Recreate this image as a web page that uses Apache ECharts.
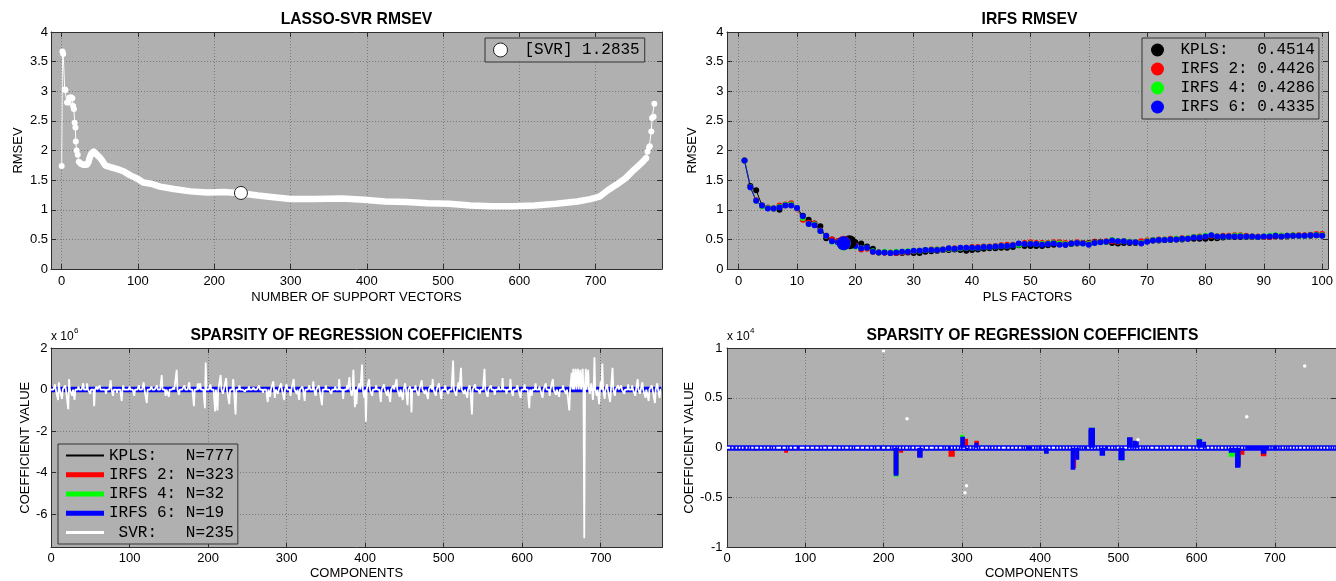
<!DOCTYPE html>
<html><head><meta charset="utf-8">
<script src="https://cdn.jsdelivr.net/npm/echarts@6/dist/echarts.min.js"></script>
<style>html,body{margin:0;padding:0;background:#fff}#c{width:1336px;height:581px}</style>
</head><body><div id="c"></div><script>
// ================= DATA =================
// --- LASSO-SVR RMSEV (top-left) ---
const svrHeadX = [0, 1, 2, 4, 5, 7, 9, 10, 12, 14, 15, 16, 17, 18, 18.5, 19.5, 21, 22.5, 25, 27];
const svrHeadY = [1.74, 3.67, 3.63, 3.03, 3.02, 2.81, 2.81, 2.89, 2.90, 2.88, 2.75, 2.70, 2.47, 2.39, 2.15, 2.00, 1.93, 1.81, 1.78, 1.77];
const svrBodyX = [25, 28, 33, 35, 37, 39, 42, 46, 50, 53, 57, 64, 72, 81, 90, 100, 107, 117, 129, 147, 169, 191, 213, 235, 257, 278, 300, 330, 368, 396, 424, 452, 480, 508, 536, 564, 592, 620, 648, 676, 693, 705, 716, 727, 739, 750, 761, 766];
const svrBodyY = [1.78, 1.76, 1.76, 1.80, 1.89, 1.95, 1.98, 1.93, 1.88, 1.83, 1.75, 1.72, 1.69, 1.65, 1.58, 1.52, 1.46, 1.44, 1.39, 1.35, 1.31, 1.29, 1.30, 1.28, 1.24, 1.21, 1.18, 1.18, 1.19, 1.17, 1.14, 1.13, 1.11, 1.10, 1.07, 1.06, 1.06, 1.07, 1.10, 1.14, 1.18, 1.22, 1.33, 1.42, 1.53, 1.67, 1.80, 1.87];
const svrTailX = [766, 768, 770, 771, 773, 774, 776, 777];
const svrTailY = [1.87, 1.98, 2.05, 2.07, 2.32, 2.55, 2.57, 2.79];
const svrBestX = [235];
const svrBestY = [1.2835];
const svrBestLabel = '[SVR] 1.2835';

// --- IRFS RMSEV (top-right) ---
const plsFactors = [1,2,3,4,5,6,7,8,9,10,11,12,13,14,15,16,17,18,19,20,21,22,23,24,25,26,27,28,29,30,31,32,33,34,35,36,37,38,39,40,41,42,43,44,45,46,47,48,49,50,51,52,53,54,55,56,57,58,59,60,61,62,63,64,65,66,67,68,69,70,71,72,73,74,75,76,77,78,79,80,81,82,83,84,85,86,87,88,89,90,91,92,93,94,95,96,97,98,99,100];
const kplsRmsev = [1.83,1.40,1.33,1.07,1.03,1.02,1.00,1.08,1.08,1.03,0.90,0.83,0.77,0.72,0.52,0.50,0.47,0.46,0.45,0.45,0.43,0.38,0.34,0.28,0.28,0.27,0.27,0.27,0.28,0.27,0.27,0.29,0.30,0.31,0.32,0.32,0.33,0.32,0.31,0.32,0.33,0.34,0.35,0.35,0.36,0.36,0.37,0.40,0.39,0.39,0.39,0.39,0.40,0.41,0.42,0.41,0.42,0.43,0.44,0.44,0.46,0.46,0.46,0.44,0.43,0.44,0.44,0.44,0.45,0.47,0.48,0.48,0.49,0.49,0.50,0.50,0.51,0.51,0.51,0.51,0.52,0.52,0.53,0.54,0.54,0.54,0.54,0.54,0.54,0.54,0.54,0.55,0.55,0.55,0.56,0.56,0.56,0.56,0.57,0.57];
const irfs2Rmsev = [1.83,1.38,1.16,1.06,1.04,1.02,1.07,1.09,1.11,1.02,0.83,0.78,0.77,0.65,0.56,0.50,0.47,0.45,0.44,0.40,0.33,0.34,0.29,0.28,0.28,0.28,0.27,0.28,0.29,0.30,0.31,0.32,0.33,0.33,0.33,0.34,0.35,0.35,0.36,0.37,0.37,0.38,0.38,0.39,0.40,0.41,0.41,0.42,0.44,0.45,0.44,0.44,0.44,0.45,0.45,0.44,0.44,0.45,0.44,0.43,0.45,0.46,0.47,0.47,0.46,0.47,0.46,0.45,0.47,0.48,0.49,0.50,0.50,0.51,0.51,0.52,0.52,0.54,0.55,0.55,0.56,0.55,0.56,0.56,0.57,0.57,0.56,0.55,0.55,0.54,0.54,0.56,0.56,0.56,0.57,0.57,0.57,0.58,0.59,0.59];
const irfs4Rmsev = [1.83,1.38,1.15,1.06,1.03,1.02,1.05,1.08,1.09,1.03,0.86,0.76,0.75,0.64,0.56,0.46,0.45,0.43,0.43,0.38,0.35,0.36,0.30,0.28,0.29,0.28,0.29,0.29,0.30,0.31,0.31,0.32,0.32,0.33,0.33,0.34,0.34,0.35,0.36,0.36,0.36,0.37,0.37,0.38,0.39,0.39,0.40,0.41,0.42,0.43,0.42,0.42,0.43,0.44,0.43,0.42,0.43,0.44,0.43,0.42,0.44,0.45,0.46,0.49,0.47,0.47,0.46,0.45,0.44,0.47,0.49,0.49,0.50,0.50,0.51,0.51,0.52,0.54,0.54,0.56,0.57,0.55,0.55,0.55,0.56,0.56,0.55,0.55,0.54,0.55,0.56,0.57,0.56,0.56,0.57,0.56,0.56,0.57,0.58,0.57];
const irfs6Rmsev = [1.83,1.38,1.15,1.07,1.02,1.02,1.04,1.07,1.07,1.03,0.89,0.76,0.74,0.64,0.56,0.47,0.45,0.43,0.43,0.39,0.35,0.36,0.29,0.28,0.28,0.27,0.28,0.29,0.29,0.31,0.31,0.32,0.32,0.32,0.33,0.35,0.34,0.36,0.36,0.36,0.36,0.37,0.37,0.38,0.39,0.39,0.40,0.43,0.42,0.42,0.42,0.41,0.42,0.43,0.41,0.41,0.43,0.44,0.43,0.41,0.44,0.45,0.46,0.48,0.47,0.47,0.45,0.45,0.43,0.46,0.48,0.49,0.49,0.50,0.50,0.51,0.51,0.53,0.53,0.55,0.57,0.55,0.55,0.55,0.55,0.55,0.55,0.55,0.54,0.55,0.55,0.56,0.55,0.56,0.56,0.56,0.56,0.57,0.57,0.56];
const irfsBestLabels = ['KPLS:   0.4514', 'IRFS 2: 0.4426', 'IRFS 4: 0.4286', 'IRFS 6: 0.4335'];
const irfsBestX = [19, 18, 18, 18];
const irfsBestY = [0.4514, 0.4426, 0.4286, 0.4335];

// --- Sparsity of regression coefficients ---
const nComponents = 778;
const coefLabels = ['KPLS:   N=777', 'IRFS 2: N=323', 'IRFS 4: N=32', 'IRFS 6: N=19', ' SVR:   N=235'];
// SVR coefficients (x 1e6): component index, value
const svrSpikeIdx = [5,9,10,14,18,22,23,27,30,35,41,46,50,55,58,62,70,76,79,84,90,92,100,106,112,118,122,128,135,141,146,150,156,160,163,170,176,182,187,190,196,197,203,209,212,216,219,223,227,232,235,240,247,252,258,265,270,276,279,283,285,289,293,297,300,305,309,313,316,320,323,329,334,337,341,345,350,357,362,367,372,377,380,383,385,387,389,393,396,399,401,405,409,414,420,424,428,432,436,440,444,448,451,454,457,459,464,468,472,476,480,484,486,490,494,497,502,506,512,516,519,522,526,530,533,536,540,546,552,556,560,565,570,575,580,585,588,594,598,603,609,612,617,622,626,630,635,639,643,647,652,656,660,663,665,667,668,670,671,673,674,676,677,679,681,683,684,686,688,690,692,695,698,700,702,705,708,712,715,718,722,726,730,735,740,744,747,750,753,757,761,765,769,772,775];
const svrSpikeVal = [0.25,-0.5,0.35,-0.45,0.2,-0.95,0.5,-0.3,-0.5,0.15,0.3,0.3,-0.2,-0.8,0.15,0.2,-0.2,0.45,-0.3,-0.15,-0.55,0.2,0.15,-0.3,0.2,0.35,-0.65,0.15,0.2,0.7,-0.3,-0.35,0.1,0.95,-0.25,0.2,0.35,-0.8,0.3,0.3,-0.9,1.3,0.25,-1.05,-1.0,0.7,-0.2,0.55,-0.7,0.5,-1.2,0.2,-0.1,0.15,0.1,0.2,-0.15,-0.6,-0.35,0.4,-0.4,-0.2,0.3,-0.5,0.25,-0.3,0.5,-0.2,-0.5,0.15,-0.55,0.2,0.4,-0.3,0.2,-0.75,0.2,-0.2,0.15,0.5,-0.45,0.2,0.6,-0.3,0.95,-0.85,-0.7,0.3,1.2,-0.4,-1.55,0.5,-0.3,0.2,-0.6,0.25,-0.3,-0.6,0.2,0.5,-0.35,-0.5,0.3,-0.75,0.15,-1.1,0.2,-0.3,0.45,-0.2,-0.45,0.2,0.5,-0.3,0.3,-0.45,0.2,-0.2,1.4,-0.3,0.35,1.05,-0.2,-0.4,0.2,-1.2,0.25,-0.2,1.0,-0.35,0.2,-0.25,0.15,0.55,-0.2,0.5,-0.3,0.2,-0.4,0.25,-0.9,-0.3,0.3,0.15,-0.4,0.3,-0.3,0.5,-0.25,-0.35,0.2,-0.2,-1.0,0.8,1.0,0.5,1.0,0.7,1.0,0.6,0.95,0.3,1.0,-7.15,1.0,0.5,0.95,-0.2,0.3,-0.5,1.55,-0.3,-0.7,0.4,1.25,-0.45,0.25,-0.6,1.05,-0.3,0.2,0.2,-0.2,0.25,0.2,-0.3,0.5,-0.2,0.35,-0.4,-0.55,0.2,-0.65,0.3,-0.4];
// PLS / IRFS coefficient blocks (x 1e4): start component, end component, value
const kplsSegStart = [213, 462, 649];
const kplsSegEnd   = [219, 470, 656];
const kplsSegVal   = [-0.26, 0.18, -0.18];
const irfs2SegStart = [35, 73, 124, 213, 220, 243, 283, 298, 304, 316, 331, 440, 451, 463, 490, 502, 513, 600, 649, 656, 682];
const irfs2SegEnd   = [38, 78, 128, 219, 225, 249, 291, 303, 308, 322, 334, 446, 457, 468, 500, 507, 518, 606, 654, 661, 689];
const irfs2SegVal   = [-0.03, -0.05, 0.025, -0.27, -0.05, -0.09, -0.09, 0.10, 0.09, 0.07, -0.02, -0.20, -0.02, 0.19, -0.03, -0.10, 0.10, 0.08, -0.18, -0.07, -0.085];
const irfs4SegStart = [213, 298, 463, 502, 600, 641, 649];
const irfs4SegEnd   = [219, 303, 468, 507, 606, 649, 654];
const irfs4SegVal   = [-0.29, 0.13, 0.20, -0.13, 0.095, -0.09, -0.19];
const irfs6SegStart = [213, 243, 298, 305, 316, 405, 439, 445, 462, 476, 500, 511, 518, 600, 607, 641, 649, 682];
const irfs6SegEnd   = [219, 250, 304, 308, 321, 411, 445, 450, 470, 483, 508, 518, 526, 607, 612, 649, 656, 689];
const irfs6SegVal   = [-0.28, -0.10, 0.11, -0.03, 0.05, -0.06, -0.22, -0.12, 0.20, -0.08, -0.125, 0.105, 0.07, 0.086, 0.06, -0.05, -0.20, -0.06];
// isolated SVR points visible in the x1e4 panel
const svrDotX = [200, 230, 304, 306, 525, 664, 738];
const svrDotY = [0.97, 0.29, -0.45, -0.38, 0.08, 0.31, 0.82];

// --- tick values ---
const tlXTicks = [0, 100, 200, 300, 400, 500, 600, 700];
const rmsevTicks = [0, 0.5, 1, 1.5, 2, 2.5, 3, 3.5, 4];
const trXTicks = [0, 10, 20, 30, 40, 50, 60, 70, 80, 90, 100];
const compTicks = [0, 100, 200, 300, 400, 500, 600, 700];
const blYTicks = [-6, -4, -2, 0, 2];
const brYTicks = [-1, -0.5, 0, 0.5, 1];

// ================= BUILD =================
const FONT = 'Liberation Sans';
const MONO = 'Liberation Mono';
const PLOT_BG = '#b0b0b0';
const FRAME = '#2e2e2e';
const BLUE = '#0000ff', RED = '#ff0000', GREEN = '#00ff00', BLACK = '#000000';

const zip = (xs, ys) => xs.map((x, i) => [x, ys[i]]);
const components = Array.from({length: nComponents}, (_, i) => i);
function vecFromSegs(starts, ends, vals, scale) {
  const v = new Array(nComponents).fill(0);
  starts.forEach((s, k) => { for (let i = s; i <= ends[k]; i++) v[i] = vals[k] * scale; });
  return v;
}
const svrVec = new Array(nComponents).fill(0);
svrSpikeIdx.forEach((idx, k) => { svrVec[idx] = svrSpikeVal[k]; });

function xAxes(gi, min, max, ticks, name, gap, margin) {
  const line = {show: true, onZero: false, lineStyle: {color: FRAME, width: 1}};
  const tick = {show: true, inside: true, length: 5, customValues: ticks, lineStyle: {color: FRAME}};
  return [
    {type: 'value', gridIndex: gi, min, max, position: 'bottom', axisLine: line, axisTick: tick,
     name, nameLocation: 'middle', nameGap: gap,
     nameTextStyle: {fontFamily: FONT, fontSize: 13, color: '#000'},
     axisLabel: {show: true, customValues: ticks, margin, fontFamily: FONT, fontSize: 13, color: '#000'},
     splitLine: {show: true, lineStyle: {color: '#7a7a7a', width: 1, type: [1, 2]}}},
    {type: 'value', gridIndex: gi, min, max, position: 'top', axisLine: line, axisTick: tick,
     axisLabel: {show: false}, splitLine: {show: false}}
  ];
}
function yAxes(gi, min, max, ticks, name, gap, margin) {
  const line = {show: true, onZero: false, lineStyle: {color: FRAME, width: 1}};
  const tick = {show: true, inside: true, length: 5, customValues: ticks, lineStyle: {color: FRAME}};
  return [
    {type: 'value', gridIndex: gi, min, max, position: 'left', axisLine: line, axisTick: tick,
     name, nameLocation: 'middle', nameGap: gap,
     nameTextStyle: {fontFamily: FONT, fontSize: 13, color: '#000'},
     axisLabel: {show: true, customValues: ticks, margin, fontFamily: FONT, fontSize: 13, color: '#000'},
     splitLine: {show: true, lineStyle: {color: '#7a7a7a', width: 1, type: [1, 2]}}},
    {type: 'value', gridIndex: gi, min, max, position: 'right', axisLine: line, axisTick: tick,
     axisLabel: {show: false}, splitLine: {show: false}}
  ];
}

const gridBase = {show: true, backgroundColor: PLOT_BG, borderWidth: 0, containLabel: false};
const grids = [
  Object.assign({left: 51, top: 32, width: 611, height: 237}, gridBase),
  Object.assign({left: 727, top: 32, width: 605, height: 237}, gridBase),
  Object.assign({left: 51, top: 348, width: 611, height: 202}, gridBase),
  Object.assign({left: 727, top: 348, width: 611, height: 202}, gridBase)
];

const xAxis = [].concat(
  xAxes(0, -14, 787, tlXTicks, 'NUMBER OF SUPPORT VECTORS', 21.5, 5.5),
  xAxes(1, -2, 101, trXTicks, 'PLS FACTORS', 21.5, 5.5),
  xAxes(2, 0, nComponents, compTicks, 'COMPONENTS', 19.5, 4),
  xAxes(3, 0, nComponents, compTicks, 'COMPONENTS', 19.5, 4)
);
const yAxis = [].concat(
  yAxes(0, 0, 4, rmsevTicks, 'RMSEV', 26.5, 3),
  yAxes(1, 0, 4, rmsevTicks, 'RMSEV', 28.5, 3.5),
  yAxes(2, -7.6, 2, blYTicks, 'COEFFICIENT VALUE', 19, 3.5),
  yAxes(3, -1, 1, brYTicks, 'COEFFICIENT VALUE', 29, 4.5)
);

const series = [];
// ---- top-left ----
series.push({type: 'line', xAxisIndex: 0, yAxisIndex: 0, data: zip(svrHeadX, svrHeadY),
  symbol: 'circle', symbolSize: 6, showSymbol: true, lineStyle: {color: '#fff', width: 1},
  itemStyle: {color: '#fff'}, z: 3});
series.push({type: 'line', xAxisIndex: 0, yAxisIndex: 0, data: zip(svrBodyX, svrBodyY),
  symbol: 'none', lineStyle: {color: '#fff', width: 6.5, cap: 'round', join: 'round'}, z: 3});
series.push({type: 'line', xAxisIndex: 0, yAxisIndex: 0, data: zip(svrTailX, svrTailY),
  symbol: 'circle', symbolSize: 6, showSymbol: true, lineStyle: {color: '#fff', width: 1},
  itemStyle: {color: '#fff'}, z: 3});
series.push({type: 'scatter', name: svrBestLabel, xAxisIndex: 0, yAxisIndex: 0, data: zip(svrBestX, svrBestY),
  symbol: 'circle', symbolSize: 13, itemStyle: {color: '#fff', borderColor: '#222', borderWidth: 1, opacity: 1}, z: 5});

// ---- top-right ----
const rmsevSets = [kplsRmsev, irfs2Rmsev, irfs4Rmsev, irfs6Rmsev];
const irfsColors = [BLACK, RED, GREEN, BLUE];
rmsevSets.forEach((arr, k) => {
  series.push({type: 'line', xAxisIndex: 2, yAxisIndex: 2, data: zip(plsFactors, arr),
    symbol: 'circle', symbolSize: 6, showSymbol: true,
    lineStyle: {color: irfsColors[k], width: 1}, itemStyle: {color: irfsColors[k]}, z: 3});
});
irfsBestLabels.forEach((lab, k) => {
  series.push({type: 'scatter', name: lab, xAxisIndex: 2, yAxisIndex: 2, data: [[irfsBestX[k], irfsBestY[k]]],
    symbol: 'circle', symbolSize: 14, itemStyle: {color: irfsColors[k], opacity: 1}, z: 5});
});

// ---- bottom-left (x 1e6) ----
const segSets = [
  [kplsSegStart, kplsSegEnd, kplsSegVal],
  [irfs2SegStart, irfs2SegEnd, irfs2SegVal],
  [irfs4SegStart, irfs4SegEnd, irfs4SegVal],
  [irfs6SegStart, irfs6SegEnd, irfs6SegVal]
];
const blWidths = [2, 5, 5, 5.5];
segSets.forEach((s, k) => {
  const v = vecFromSegs(s[0], s[1], s[2], 0.01); // 1e4 units -> 1e6 units
  series.push({type: 'line', name: coefLabels[k], xAxisIndex: 4, yAxisIndex: 4,
    data: components.map(i => [i, v[i]]), symbol: 'none',
    lineStyle: {color: irfsColors[k], width: blWidths[k]}, itemStyle: {color: irfsColors[k]}, z: 3});
});
series.push({type: 'line', name: coefLabels[4], xAxisIndex: 4, yAxisIndex: 4,
  data: components.map(i => [i, svrVec[i]]), symbol: 'none',
  lineStyle: {color: '#fff', width: 1.8}, itemStyle: {color: '#fff'}, z: 4});

// ---- bottom-right (x 1e4) ----
function rectSeries(s, color, z) {
  return {type: 'custom', xAxisIndex: 6, yAxisIndex: 6, clip: true, z,
    data: s[0].map((st, k) => [st, s[1][k], s[2][k]]),
    encode: {x: [0, 1], y: 2},
    renderItem: (params, api) => {
      const a = api.coord([api.value(0), 0]);
      const b = api.coord([api.value(1), api.value(2)]);
      return {type: 'rect',
        shape: {x: Math.min(a[0], b[0]), y: Math.min(a[1], b[1]),
                width: Math.max(1, Math.abs(b[0] - a[0])), height: Math.max(1, Math.abs(b[1] - a[1]))},
        style: {fill: color}};
    }};
}
series.push(rectSeries(segSets[0], BLACK, 2));
series.push(rectSeries(segSets[1], RED, 2));
series.push(rectSeries(segSets[2], GREEN, 2));
const v6 = vecFromSegs(irfs6SegStart, irfs6SegEnd, irfs6SegVal, 1);
series.push({type: 'line', xAxisIndex: 6, yAxisIndex: 6, data: components.map(i => [i, v6[i]]),
  symbol: 'none', lineStyle: {color: BLUE, width: 1, opacity: 0}, z: 3,
  markLine: {silent: true, symbol: ['none', 'none'], label: {show: false}, animation: false, z: 3,
    lineStyle: {color: BLUE, width: 5.5, type: 'solid'}, data: [{yAxis: 0}]}});
series.push({type: 'line', xAxisIndex: 6, yAxisIndex: 6,
  data: components.map(i => { const val = svrVec[i] * 100; return [i, Math.abs(val) <= 1 ? val : '-']; }),
  symbol: 'none', connectNulls: false, lineStyle: {color: '#fff', width: 2}, z: 7});
series.push(rectSeries(segSets[3], BLUE, 8));
series.push({type: 'scatter', xAxisIndex: 6, yAxisIndex: 6, data: zip(svrDotX, svrDotY),
  symbol: 'circle', symbolSize: 3.5, itemStyle: {color: '#fff', opacity: 1}, z: 9});

// ---- titles ----
const titleStyle = {fontFamily: FONT, fontWeight: 'bold', fontSize: 15.7, color: '#000'};
const expStyle = {fontFamily: FONT, fontWeight: 'normal', fontSize: 12, color: '#000'};
const supStyle = {fontFamily: FONT, fontWeight: 'normal', fontSize: 8, color: '#000'};
const title = [
  {text: 'LASSO-SVR RMSEV', left: 356.5, top: 11.5, textAlign: 'center', padding: 0, textStyle: titleStyle},
  {text: 'IRFS RMSEV', left: 1029.5, top: 11.5, textAlign: 'center', padding: 0, textStyle: titleStyle},
  {text: 'SPARSITY OF REGRESSION COEFFICIENTS', left: 356.5, top: 328, textAlign: 'center', padding: 0, textStyle: titleStyle},
  {text: 'SPARSITY OF REGRESSION COEFFICIENTS', left: 1032.5, top: 328, textAlign: 'center', padding: 0, textStyle: titleStyle},
  {text: 'x 10', left: 51, top: 331, textAlign: 'left', padding: 0, textStyle: expStyle},
  {text: '6', left: 74, top: 327, textAlign: 'left', padding: 0, textStyle: supStyle},
  {text: 'x 10', left: 727, top: 331, textAlign: 'left', padding: 0, textStyle: expStyle},
  {text: '4', left: 750, top: 327, textAlign: 'left', padding: 0, textStyle: supStyle}
];

// ---- legends ----
const legendBase = {orient: 'vertical', backgroundColor: PLOT_BG, borderColor: '#333', borderWidth: 1,
  borderRadius: 0, selectedMode: false, textStyle: {fontFamily: MONO, fontSize: 16, color: '#000'}};
const lineIcons = ['path://M0,0h38v2.2h-38z', 'path://M0,0h38v5h-38z', 'path://M0,0h38v5h-38z',
                   'path://M0,0h38v5h-38z', 'path://M0,0h38v3h-38z'];
const legendColors = [BLACK, RED, GREEN, BLUE, '#ffffff'];
const legend = [
  Object.assign({}, legendBase, {left: 485, top: 38, padding: [4, 5, 4, 8], itemWidth: 38, itemHeight: 14,
    data: [{name: svrBestLabel, icon: 'circle', itemStyle: {color: '#fff', borderColor: '#222', borderWidth: 1}}]}),
  Object.assign({}, legendBase, {left: 1142, top: 38, padding: [4, 4, 4, 9], itemWidth: 36, itemHeight: 13, itemGap: 3,
    data: irfsBestLabels.map((n, k) => ({name: n, icon: 'circle', itemStyle: {color: irfsColors[k], borderWidth: 0}}))}),
  Object.assign({}, legendBase, {left: 58, top: 444, padding: [3.5, 4, 3.5, 8], itemWidth: 38, itemHeight: 6, itemGap: 3.25,
    data: coefLabels.map((n, k) => ({name: n, icon: lineIcons[k], itemStyle: {color: legendColors[k], borderWidth: 0}}))})
];

const chart = echarts.init(document.getElementById('c'), null, {renderer: 'canvas'});
chart.setOption({
  animation: false,
  backgroundColor: '#ffffff',
  textStyle: {fontFamily: FONT},
  title, legend, grid: grids, xAxis, yAxis, series
});
</script></body></html>
